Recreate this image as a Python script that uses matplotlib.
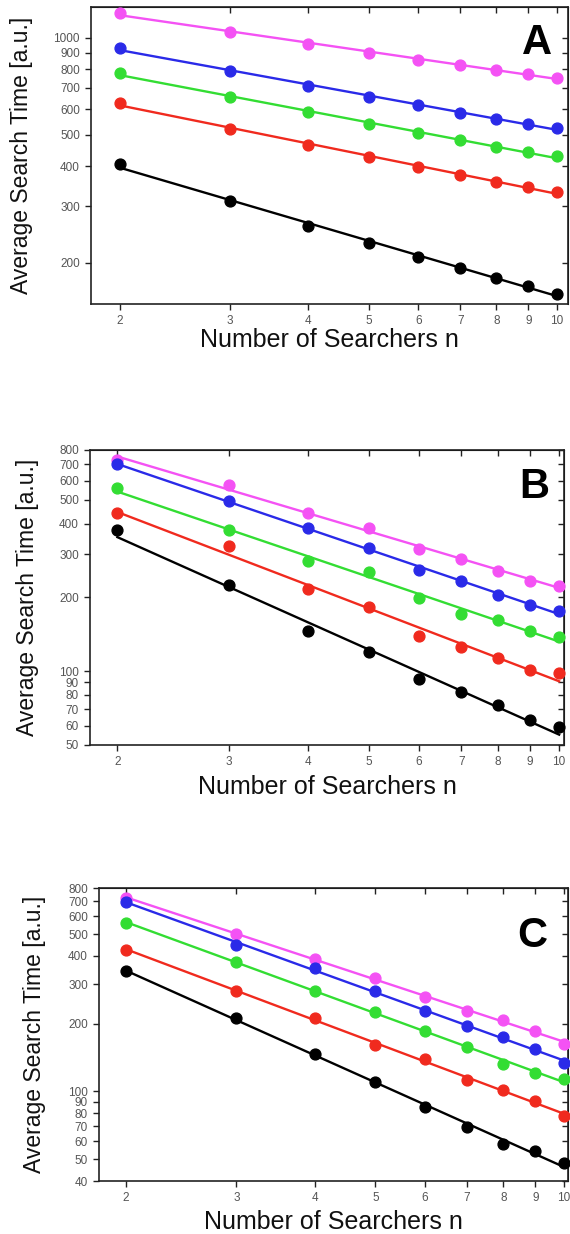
import numpy as np
import matplotlib
matplotlib.use("Agg")
import matplotlib.pyplot as plt
from matplotlib.ticker import FixedLocator, NullLocator, FixedFormatter

plt.rcParams['font.family'] = ['Liberation Sans', 'DejaVu Sans']

n = [2, 3, 4, 5, 6, 7, 8, 9, 10]
x_ticks = [2, 3, 4, 5, 6, 7, 8, 9, 10]

# Panel A
A_magenta = [1196, 1044, 958, 898, 857, 822, 797, 773, 753]
A_blue = [929, 792, 711, 657, 618, 585, 562, 540, 524]
A_green = [780, 657, 588, 540, 506, 481, 460, 442, 429]
A_red = [630, 523, 464, 426, 398, 375, 358, 344, 333]
A_black = [406, 311, 261, 231, 209, 193, 180, 169, 160]
A_yticks = [200, 300, 400, 500, 600, 700, 800, 900, 1000]

# Panel B
B_magenta = [730, 573, 441, 384, 315, 287, 256, 234, 223]
B_blue = [699, 494, 385, 318, 260, 233, 205, 186, 176]
B_green = [557, 376, 283, 255, 199, 171, 162, 146, 138]
B_red = [441, 325, 217, 182, 139, 125, 113, 101, 98]
B_black = [376, 224, 146, 120, 93, 82.5, 72.5, 63, 59]
B_yticks = [50, 60, 70, 80, 90, 100, 200, 300, 400, 500, 600, 700, 800]

# Panel C
C_magenta = [722, 502, 389, 318, 263, 227, 207, 186, 163]
C_blue = [695, 446, 354, 279, 227, 195, 175, 154, 134]
C_green = [561, 377, 279, 226, 185, 158, 132, 121, 114]
C_red = [425, 279, 212, 161, 139, 113, 102, 90.5, 77.6]
C_black = [343, 211, 147, 110, 85, 69.6, 58.4, 54.6, 48]
C_yticks = [40, 50, 60, 70, 80, 90, 100, 200, 300, 400, 500, 600, 700, 800]

colors = ['#f452f4', '#2a2ae8', '#33dd33', '#f02a1e', '#000000']

panels = [
    dict(label='A', series=[A_magenta, A_blue, A_green, A_red, A_black], yticks=A_yticks,
         ylim=(149, 1248), xlim=(1.80, 10.41), rect=[0.1596, 0.7536, 0.837, 0.2407],
         ylab_x=22, xlab_y=340, letter=(0.935, 0.879)),
    dict(label='B', series=[B_magenta, B_blue, B_green, B_red, B_black], yticks=B_yticks,
         ylim=(50, 800), xlim=(1.81, 10.18), rect=[0.1579, 0.3963, 0.8316, 0.2391],
         ylab_x=28, xlab_y=787, letter=(0.937, 0.875)),
    dict(label='C', series=[C_magenta, C_blue, C_green, C_red, C_black], yticks=C_yticks,
         ylim=(40, 800), xlim=(1.81, 10.15), rect=[0.1737, 0.0429, 0.8228, 0.2374],
         ylab_x=35, xlab_y=1222, letter=(0.923, 0.836)),
]

W, H = 570, 1234
fig = plt.figure(figsize=(W / 100, H / 100), dpi=100)

xs = np.array(n, dtype=float)
for p in panels:
    ax = fig.add_axes(p['rect'])
    ax.set_xscale('log')
    ax.set_yscale('log')
    for ser, c in zip(p['series'], colors):
        y = np.array(ser, dtype=float)
        k, b = np.polyfit(np.log10(xs), np.log10(y), 1)
        ax.plot(xs, 10 ** (k * np.log10(xs) + b), color=c, lw=1.7, zorder=2)
        ax.plot(xs, y, 'o', color=c, ms=7.8, zorder=3, clip_on=False)
    ax.set_xlim(*p['xlim'])
    ax.set_ylim(*p['ylim'])
    ax.xaxis.set_major_locator(FixedLocator(x_ticks))
    ax.xaxis.set_major_formatter(FixedFormatter([str(v) for v in x_ticks]))
    ax.xaxis.set_minor_locator(NullLocator())
    ax.yaxis.set_major_locator(FixedLocator(p['yticks']))
    ax.yaxis.set_major_formatter(FixedFormatter([str(v) for v in p['yticks']]))
    ax.yaxis.set_minor_locator(NullLocator())
    ax.tick_params(axis='both', direction='out', length=4, width=1, labelsize=8.5,
                   labelcolor='#555555', color='#222222', pad=4)
    for s in ax.spines.values():
        s.set_linewidth(1.2)
        s.set_color('#222222')
    # inward ticks on top and right
    sx = ax.secondary_xaxis('top')
    sx.xaxis.set_major_locator(FixedLocator(x_ticks))
    sx.xaxis.set_minor_locator(NullLocator())
    sx.tick_params(direction='in', length=4, width=1, labeltop=False, color='#222222')
    sy = ax.secondary_yaxis('right')
    sy.yaxis.set_major_locator(FixedLocator(p['yticks']))
    sy.yaxis.set_minor_locator(NullLocator())
    sy.tick_params(direction='in', length=4, width=1, labelright=False, color='#222222')
    ax.text(p['letter'][0], p['letter'][1], p['label'], transform=ax.transAxes,
            fontsize=30, fontweight='bold', ha='center', va='center')
    # axis labels placed in figure pixels
    r = p['rect']
    yc = r[1] + r[3] / 2
    fig.text(p['ylab_x'] / W, yc, 'Average Search Time [a.u.]', rotation=90,
             fontsize=16.5, ha='center', va='center', color='#111111')
    fig.text(r[0] + r[2] / 2, 1 - p['xlab_y'] / H, 'Number of Searchers n',
             fontsize=18, ha='center', va='center', color='#111111')

fig.savefig('out.png', dpi=100)
